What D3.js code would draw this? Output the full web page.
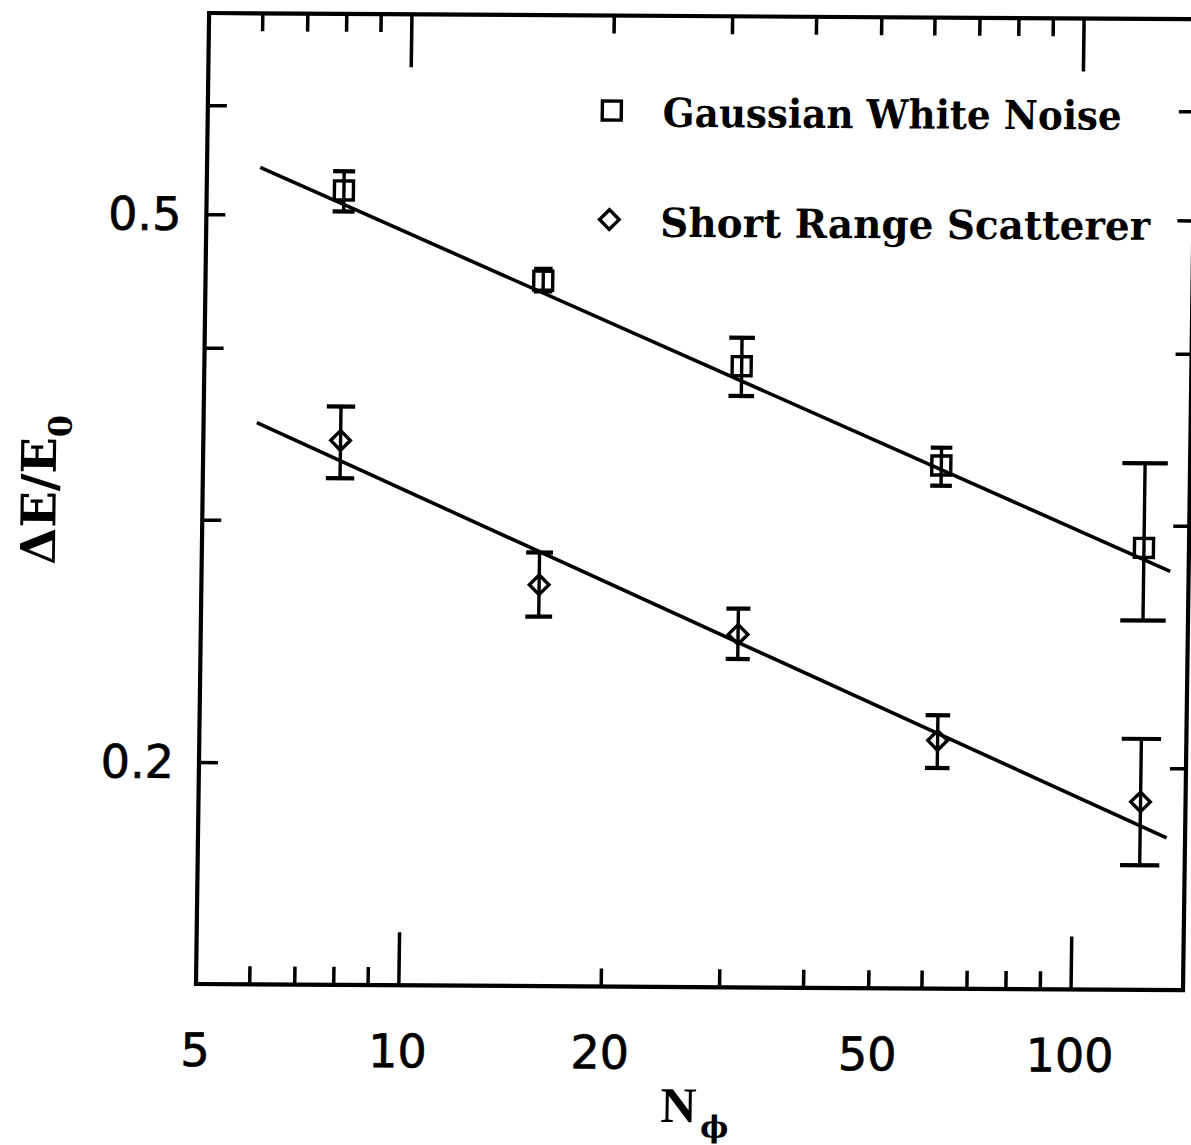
<!DOCTYPE html>
<html><head><meta charset="utf-8">
<script src="https://cdn.jsdelivr.net/npm/d3@7"></script>
<style>body{margin:0;background:#fff}</style>
</head><body>
<svg id="c" width="1191" height="1145"></svg>
<script>
// ---- data ----
const nPhi = [8.0, 15.9, 31.5, 62.7, 126];
const gaussVal = [0.521, 0.449, 0.390, 0.331, 0.289];
const gaussLo  = [0.503, 0.441, 0.371, 0.320, 0.256];
const gaussHi  = [0.538, 0.458, 0.409, 0.341, 0.333];
const shortVal = [0.343, 0.270, 0.249, 0.209, 0.189];
const shortLo  = [0.322, 0.256, 0.239, 0.1996, 0.170];
const shortHi  = [0.363, 0.285, 0.260, 0.218, 0.210];
const fitN     = [6, 138];
const gaussFit = [0.541, 0.278];
const shortFit = [0.353, 0.178];
const xLabels  = [5, 10, 20, 50, 100];
const xMajor   = [10, 100];
const xMinor   = [6, 7, 8, 9, 20, 30, 40, 50, 60, 70, 80, 90];
const yTicks   = [0.2, 0.3, 0.4, 0.5, 0.6];
const yLabels  = [0.2, 0.5];
const seriesNames = ["Gaussian White Noise", "Short Range Scatterer"];

// ---- layout ----
const W = 1191, H = 1145;
const L = 196, R = 1183, T = 13, B = 984;
const x = d3.scaleLog().domain([5, 147]).range([L, R]);
const y = d3.scaleLog().domain([0.138, 0.70]).range([B, T]);

const svg = d3.select('#c');
svg.append('rect').attr('width', W).attr('height', H).attr('fill', '#fff');
// slight tilt of the scanned page
const g = svg.append('g').attr('transform', 'matrix(1,0.0063,-0.0135,1,13.28,-1.24)');

function axisG(axis, tr) {
  const a = g.append('g').attr('transform', tr).call(axis);
  a.select('.domain').remove();
  a.selectAll('line').attr('stroke', '#000').attr('stroke-width', 3.5);
  a.selectAll('text').remove();
}
axisG(d3.axisBottom(x).tickValues(xMajor).tickSize(-53), `translate(0,${B})`);
axisG(d3.axisBottom(x).tickValues(xMinor).tickSize(-18), `translate(0,${B})`);
axisG(d3.axisTop(x).tickValues(xMajor).tickSize(-53), `translate(0,${T})`);
axisG(d3.axisTop(x).tickValues(xMinor).tickSize(-18), `translate(0,${T})`);
axisG(d3.axisLeft(y).tickValues(yTicks).tickSize(-19), `translate(${L},0)`);
axisG(d3.axisRight(y).tickValues(yTicks).tickSize(-16), `translate(${R},0)`);

g.append('rect').attr('x', L).attr('y', T).attr('width', R - L).attr('height', B - T)
  .attr('fill', 'none').attr('stroke', '#000').attr('stroke-width', 4.2);

// tick labels
g.selectAll('.xl').data(xLabels).enter().append('text')
  .attr('x', d => x(d)).attr('y', 1066).attr('text-anchor', 'middle')
  .attr('font-family', 'DejaVu Sans').attr('font-size', 46)
  .attr('stroke', '#000').attr('stroke-width', 0.7).text(d => d);
g.selectAll('.yl').data(yLabels).enter().append('text')
  .attr('x', 171).attr('y', d => y(d) + 16).attr('text-anchor', 'end')
  .attr('font-family', 'DejaVu Sans').attr('font-size', 46)
  .attr('stroke', '#000').attr('stroke-width', 0.7).text(d => d.toFixed(1));

// axis titles
g.append('text').attr('x', 662).attr('y', 1119)
  .attr('font-family', 'Liberation Serif').attr('font-weight', 'bold').attr('font-size', 50).text('N');
g.append('text').attr('x', 702).attr('y', 1134)
  .attr('font-family', 'DejaVu Serif').attr('font-weight', 'bold').attr('font-size', 30).text('ϕ');
const yt = g.append('text').attr('transform', 'translate(49,566) rotate(-90)')
  .attr('font-family', 'DejaVu Serif').attr('font-weight', 'bold').attr('font-size', 48);
yt.append('tspan').text('ΔE/E');
yt.append('tspan').attr('font-size', 32).attr('dy', 15).text('0');

// fit lines
const line = d3.line().x(d => x(d[0])).y(d => y(d[1]));
[gaussFit, shortFit].forEach(f => {
  g.append('path').datum(fitN.map((n, i) => [n, f[i]])).attr('d', line)
    .attr('fill', 'none').attr('stroke', '#000').attr('stroke-width', 3.6);
});

// error bars
function errorBars(lo, hi) {
  nPhi.forEach((n, i) => {
    const cx = x(n), y1 = y(hi[i]), y2 = y(lo[i]);
    const half = 7 + 0.1 * (y2 - y1);
    g.append('line').attr('x1', cx).attr('x2', cx).attr('y1', y1).attr('y2', y2)
      .attr('stroke', '#000').attr('stroke-width', 3.4);
    [y1, y2].forEach(yy => g.append('line').attr('x1', cx - half).attr('x2', cx + half)
      .attr('y1', yy).attr('y2', yy).attr('stroke', '#000').attr('stroke-width', 4.2));
  });
}
errorBars(gaussLo, gaussHi);
errorBars(shortLo, shortHi);

function square(px, py) {
  g.append('rect').attr('x', px - 9.5).attr('y', py - 9.5).attr('width', 19).attr('height', 19)
    .attr('fill', 'none').attr('stroke', '#000').attr('stroke-width', 3.4);
}
function diamond(px, py) {
  const h = 9.8;
  g.append('path').attr('d', `M${px},${py - h}L${px + h},${py}L${px},${py + h}L${px - h},${py}Z`)
    .attr('fill', 'none').attr('stroke', '#000').attr('stroke-width', 3.4);
}
nPhi.forEach((n, i) => square(x(n), y(gaussVal[i])));
nPhi.forEach((n, i) => diamond(x(n), y(shortVal[i])));

// legend
square(600, 108);
diamond(599, 217);
g.append('text').attr('x', 651).attr('y', 124).attr('font-family', 'DejaVu Serif').attr('font-weight', 'bold')
  .attr('font-size', 40).attr('textLength', 459).attr('lengthAdjust', 'spacingAndGlyphs').text(seriesNames[0]);
g.append('text').attr('x', 650).attr('y', 234).attr('font-family', 'DejaVu Serif').attr('font-weight', 'bold')
  .attr('font-size', 40).attr('textLength', 490).attr('lengthAdjust', 'spacingAndGlyphs').text(seriesNames[1]);
</script>
</body></html>
